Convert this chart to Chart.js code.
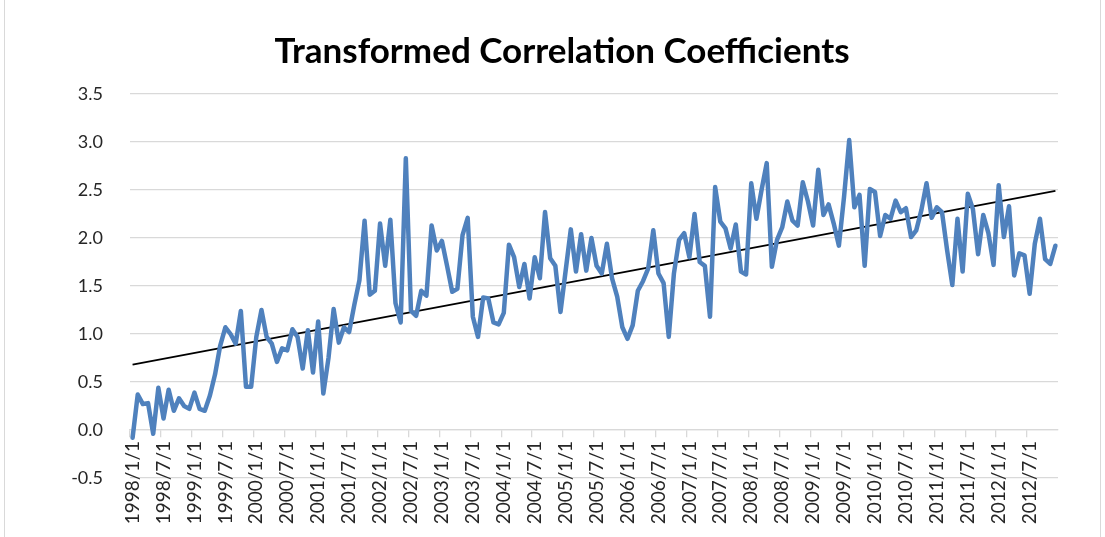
<!DOCTYPE html>
<html>
<head>
<meta charset="utf-8">
<title>Transformed Correlation Coefficients</title>
<script src="https://cdn.jsdelivr.net/npm/chart.js@4/dist/chart.umd.min.js"></script>
<style>
  html, body { margin: 0; padding: 0; background: #fff; }
  #wrap { position: relative; width: 1105px; height: 537px; overflow: hidden; }
  #frame { position: absolute; left: 4px; top: -2px; width: 1095px; height: 560px; border: 1px solid #d9d9d9; }
  canvas { position: absolute; left: 0; top: 0; }
</style>
</head>
<body>
<div id="wrap">
  <div id="frame"></div>
  <canvas id="lineChart" width="1105" height="537"></canvas>
</div>
<script>
// monthly values, one array per year (Jan..Dec)
const y1998 = [-0.08, 0.37, 0.27, 0.28, -0.04, 0.44, 0.12, 0.42, 0.20, 0.33, 0.25, 0.22];
const y1999 = [0.39, 0.22, 0.20, 0.36, 0.58, 0.88, 1.07, 1.00, 0.90, 1.24, 0.45, 0.45];
const y2000 = [0.97, 1.25, 0.97, 0.90, 0.71, 0.85, 0.83, 1.05, 0.97, 0.64, 1.04, 0.60];
const y2001 = [1.13, 0.38, 0.75, 1.26, 0.91, 1.07, 1.02, 1.30, 1.56, 2.18, 1.41, 1.45];
const y2002 = [2.15, 1.71, 2.19, 1.32, 1.12, 2.83, 1.24, 1.19, 1.45, 1.40, 2.13, 1.87];
const y2003 = [1.97, 1.71, 1.44, 1.47, 2.03, 2.21, 1.18, 0.97, 1.38, 1.37, 1.12, 1.10];
const y2004 = [1.22, 1.93, 1.80, 1.49, 1.73, 1.37, 1.80, 1.58, 2.27, 1.79, 1.71, 1.23];
const y2005 = [1.66, 2.09, 1.65, 2.04, 1.66, 2.00, 1.71, 1.63, 1.94, 1.58, 1.39, 1.07];
const y2006 = [0.95, 1.09, 1.45, 1.55, 1.68, 2.08, 1.63, 1.53, 0.97, 1.63, 1.98, 2.05];
const y2007 = [1.80, 2.25, 1.75, 1.71, 1.18, 2.53, 2.17, 2.10, 1.89, 2.14, 1.65, 1.62];
const y2008 = [2.57, 2.20, 2.50, 2.78, 1.70, 1.98, 2.11, 2.38, 2.18, 2.13, 2.58, 2.38];
const y2009 = [2.13, 2.71, 2.24, 2.35, 2.15, 1.92, 2.43, 3.02, 2.32, 2.45, 1.71, 2.51];
const y2010 = [2.48, 2.02, 2.24, 2.20, 2.39, 2.27, 2.31, 2.01, 2.08, 2.29, 2.57, 2.21];
const y2011 = [2.32, 2.27, 1.87, 1.51, 2.20, 1.65, 2.46, 2.30, 1.83, 2.24, 2.05, 1.72];
const y2012 = [2.55, 2.01, 2.33, 1.61, 1.84, 1.82, 1.42, 1.94, 2.20, 1.78, 1.73, 1.92];

const years = [1998, 1999, 2000, 2001, 2002, 2003, 2004, 2005, 2006, 2007, 2008, 2009, 2010, 2011, 2012];
const yearValues = [y1998, y1999, y2000, y2001, y2002, y2003, y2004, y2005, y2006, y2007, y2008, y2009, y2010, y2011, y2012];

// linear trend line, read at first and last month
const trendStart = 0.68;
const trendEnd = 2.49;

const yTicks = [-0.5, 0.0, 0.5, 1.0, 1.5, 2.0, 2.5, 3.0, 3.5];

const months = [];
years.forEach(y => { for (let m = 1; m <= 12; m++) months.push(`${y}/${m}/1`); });
const coefficients = [].concat(...yearValues);
const trend = months.map((_, i) => i === 0 ? trendStart : (i === months.length - 1 ? trendEnd : null));

const textColor = '#262626';
const gridColor = '#d9d9d9';

new Chart(document.getElementById('lineChart'), {
  type: 'line',
  data: {
    labels: months,
    datasets: [{
      label: 'Transformed Correlation Coefficients',
      data: coefficients,
      borderColor: '#4f81bd',
      borderWidth: 4.5,
      pointRadius: 0,
      tension: 0,
      borderJoinStyle: 'round',
      borderCapStyle: 'round'
    }, {
      label: 'Linear trend',
      data: trend,
      borderColor: '#000000',
      borderWidth: 1.8,
      pointRadius: 0,
      spanGaps: true
    }]
  },
  options: {
    responsive: false,
    animation: false,
    layout: { padding: { left: 19, right: 0, top: 0, bottom: 59 } },
    plugins: {
      legend: { display: false },
      tooltip: { enabled: false },
      title: {
        display: true,
        text: 'Transformed Correlation Coefficients',
        color: '#000000',
        font: { family: 'Lato', size: 35, weight: 'bold' },
        padding: { top: 31, bottom: 21 }
      }
    },
    scales: {
      x: {
        position: { y: 0 },
        offset: true,
        grid: {
          offset: true,
          drawOnChartArea: false,
          tickLength: 7,
          lineWidth: 1.3,
          tickColor: ctx => ctx.index % 6 === 0 ? gridColor : 'rgba(0,0,0,0)'
        },
        border: { color: gridColor, width: 1.3 },
        ticks: {
          autoSkip: false,
          minRotation: 90,
          maxRotation: 90,
          padding: 4,
          color: textColor,
          font: { family: 'Lato', size: 19 },
          callback: function (v, i) { return i % 6 === 0 ? this.getLabelForValue(v) : ''; }
        }
      },
      y: {
        min: -0.5,
        max: 3.5,
        afterBuildTicks: s => { s.ticks = yTicks.map(v => ({ value: v })); },
        grid: { color: gridColor, lineWidth: 1.3, drawTicks: false },
        border: { display: false },
        ticks: {
          padding: 27,
          color: textColor,
          font: { family: 'Lato', size: 18 },
          callback: v => v.toFixed(1)
        },
        afterFit: s => { s.width = 111; }
      },
      // empty right-hand axis, only keeps the plot's right margin
      yRight: {
        position: 'right',
        grid: { display: false },
        border: { display: false },
        ticks: { display: false },
        afterFit: s => { s.width = 47; }
      }
    }
  }
});
</script>
</body>
</html>
